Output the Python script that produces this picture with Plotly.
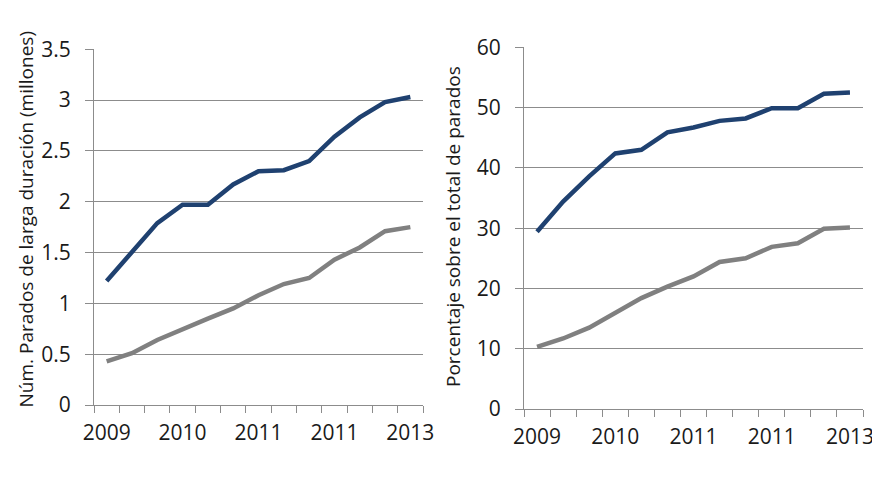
import plotly.graph_objects as go
from plotly.subplots import make_subplots

periods = list(range(1, 14))
tick_positions = [1, 4, 7, 10, 13]
tick_labels = ["2009", "2010", "2011", "2011", "2013"]

left_blue = [1.22, 1.51, 1.79, 1.97, 1.97, 2.17, 2.30, 2.31, 2.40, 2.64, 2.83, 2.98, 3.03]
left_gray = [0.43, 0.51, 0.64, 0.75, 0.85, 0.95, 1.08, 1.19, 1.25, 1.43, 1.55, 1.71, 1.75]
right_blue = [29.4, 34.4, 38.6, 42.4, 43.0, 45.9, 46.7, 47.8, 48.2, 49.9, 49.9, 52.3, 52.5]
right_gray = [10.3, 11.7, 13.5, 16.0, 18.4, 20.3, 22.0, 24.4, 25.0, 26.9, 27.5, 29.9, 30.1]

left_yticks = [0, 0.5, 1, 1.5, 2, 2.5, 3, 3.5]
left_yticktext = ["0", "0.5", "1", "1.5", "2", "2.5", "3", "3.5"]
right_yticks = [0, 10, 20, 30, 40, 50, 60]

left_title = "Núm. Parados de larga duración (millones)"
right_title = "Porcentaje sobre el total de parados"

BLUE = "#1f4170"
GRAY = "#808080"
FONT = "Open Sans"
TXT = "#1a1a1a"

# page body has an 8px default margin
OFF = 8
W, H = 880 - OFF, 495 - OFF


def px(x):
    return (x - OFF) / W


def py(y):
    return 1 - (y - OFF) / H


fig = make_subplots(rows=1, cols=2)
fig.add_trace(go.Scatter(x=periods, y=left_blue, mode="lines",
                         line=dict(color=BLUE, width=4.5)), row=1, col=1)
fig.add_trace(go.Scatter(x=periods, y=left_gray, mode="lines",
                         line=dict(color=GRAY, width=4.5)), row=1, col=1)
fig.add_trace(go.Scatter(x=periods, y=right_blue, mode="lines",
                         line=dict(color=BLUE, width=4.5)), row=1, col=2)
fig.add_trace(go.Scatter(x=periods, y=right_gray, mode="lines",
                         line=dict(color=GRAY, width=4.5)), row=1, col=2)

xcommon = dict(range=[0.5, 13.5], tickmode="array", tickvals=tick_positions,
               ticktext=tick_labels, ticks="", showgrid=False, zeroline=False,
               showline=True, linecolor="#8c8c8c", linewidth=1.2,
               tickfont=dict(family=FONT, size=21, color=TXT),
               ticklabelstandoff=9, automargin=False,
               minor=dict(ticks="outside", tick0=0.5, dtick=1, ticklen=7,
                          tickcolor="#8c8c8c", tickwidth=1.2, showgrid=False))
ycommon = dict(showgrid=True, gridcolor="#8c8c8c", gridwidth=1, zeroline=False,
               showline=True, linecolor="#8c8c8c", linewidth=1.2,
               ticks="outside", ticklen=8, tickcolor="#8c8c8c", tickwidth=1.2,
               tickfont=dict(family=FONT, size=21, color=TXT),
               ticklabelstandoff=10, automargin=False)

fig.update_xaxes(**xcommon)
fig.update_yaxes(**ycommon)
fig.update_layout(
    xaxis=dict(domain=[px(94), px(423)]),
    xaxis2=dict(domain=[px(524), px(863)]),
    yaxis=dict(domain=[py(405), py(49.3)], range=[0, 3.5],
               tickvals=left_yticks, ticktext=left_yticktext),
    yaxis2=dict(domain=[py(409), py(47.3)], range=[0, 60],
                tickvals=right_yticks),
    width=W, height=H,
    margin=dict(l=0, r=0, t=0, b=0, autoexpand=False),
    paper_bgcolor="white", plot_bgcolor="white",
    showlegend=False,
    annotations=[
        dict(text=left_title, xref="paper", yref="paper", x=px(25),
             y=py(219.5), textangle=-90, showarrow=False,
             xanchor="center", yanchor="middle",
             font=dict(family=FONT, size=19, color=TXT)),
        dict(text=right_title, xref="paper", yref="paper", x=px(453),
             y=py(227), textangle=-90, showarrow=False,
             xanchor="center", yanchor="middle",
             font=dict(family=FONT, size=19, color=TXT)),
    ],
)

fig.write_html("out.html")
